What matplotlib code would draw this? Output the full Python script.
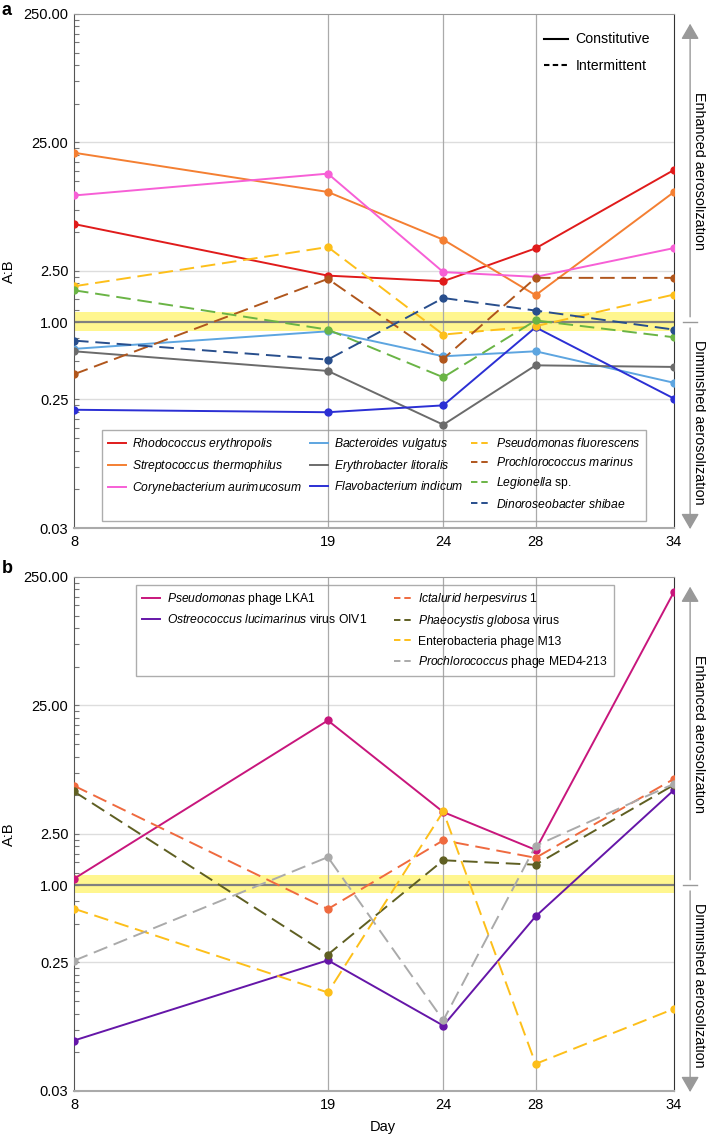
import numpy as np
import matplotlib
matplotlib.use("Agg")
import matplotlib.pyplot as plt
from matplotlib.lines import Line2D
from matplotlib.ticker import FixedLocator, FixedFormatter, NullFormatter
import matplotlib.transforms as mtransforms

plt.rcParams['font.family'] = ['Liberation Sans', 'DejaVu Sans']
plt.rcParams['mathtext.fontset'] = 'custom'
plt.rcParams['mathtext.it'] = 'Liberation Sans:italic'
plt.rcParams['mathtext.rm'] = 'Liberation Sans'

# sampling days
days = [8, 19, 24, 28, 34]

# panel a: bacteria, A:B ratios
rhodococcus = [5.80, 2.30, 2.08, 3.75, 15.3]
streptococcus = [20.8, 10.3, 4.38, 1.62, 10.3]
corynebacterium = [9.67, 14.3, 2.45, 2.25, 3.77]
bacteroides = [0.619, 0.848, 0.542, 0.593, 0.337]
erythrobacter = [0.593, 0.417, 0.159, 0.461, 0.448]
flavobacterium = [0.208, 0.199, 0.225, 0.911, 0.254]
ps_fluorescens = [1.90, 3.84, 0.80, 0.93, 1.64]
pro_marinus = [0.393, 2.17, 0.518, 2.21, 2.21]
legionella = [1.77, 0.874, 0.372, 1.03, 0.762]
dinoroseobacter = [0.718, 0.511, 1.54, 1.23, 0.874]

# panel b: viruses
lka1 = [1.12, 19.1, 3.70, 1.88, 192.0]
ostreococcus_v = [0.0617, 0.260, 0.0806, 0.571, 5.51]
ictalurid = [5.93, 0.651, 2.23, 1.63, 6.71]
phaeocystis_v = [5.35, 0.288, 1.56, 1.44, 6.03]
m13 = [0.655, 0.146, 3.74, 0.0406, 0.109]
pro_phage = [0.258, 1.65, 0.0886, 2.02, 6.14]

ytick_vals = [0.025, 0.25, 1.0, 2.5, 25, 250]
ytick_labels = ['0.03', '0.25', '1.00', '2.50', '25.00', '250.00']

bact_series = [
    (rhodococcus, r'$\it{Rhodococcus\ erythropolis}$', '#e01b1b', '-'),
    (streptococcus, r'$\it{Streptococcus\ thermophilus}$', '#f47f32', '-'),
    (corynebacterium, r'$\it{Corynebacterium\ aurimucosum}$', '#f75fd6', '-'),
    (bacteroides, r'$\it{Bacteroides\ vulgatus}$', '#5da5e0', '-'),
    (erythrobacter, r'$\it{Erythrobacter\ litoralis}$', '#6b6b6b', '-'),
    (flavobacterium, r'$\it{Flavobacterium\ indicum}$', '#2b2fd4', '-'),
    (ps_fluorescens, r'$\it{Pseudomonas\ fluorescens}$', '#fdbf1a', '--'),
    (pro_marinus, r'$\it{Prochlorococcus\ marinus}$', '#b0561c', '--'),
    (legionella, r'$\it{Legionella}$ sp.', '#6ab445', '--'),
    (dinoroseobacter, r'$\it{Dinoroseobacter\ shibae}$', '#284e8c', '--'),
]

virus_series = [
    (lka1, r'$\it{Pseudomonas}$ phage LKA1', '#c8167c', '-'),
    (ostreococcus_v, r'$\it{Ostreococcus\ lucimarinus}$ virus OIV1', '#6516a8', '-'),
    (ictalurid, r'$\it{Ictalurid\ herpesvirus}$ 1', '#ef6a3f', '--'),
    (phaeocystis_v, r'$\it{Phaeocystis\ globosa}$ virus', '#5f5f22', '--'),
    (m13, 'Enterobacteria phage M13', '#fdbf1a', '--'),
    (pro_phage, r'$\it{Prochlorococcus}$ phage MED4-213', '#aaaaaa', '--'),
]

fig = plt.figure(figsize=(7.06, 11.35), dpi=100)
ax_a = fig.add_axes([0.1048, 0.5348, 0.85, 0.4529])
ax_b = fig.add_axes([0.1048, 0.0388, 0.85, 0.4529])


def style_axis(ax):
    ax.set_yscale('log')
    ax.set_xlim(days[0], days[-1])
    ax.set_ylim(0.025, 250)
    ax.axhspan(0.86, 1.19, color='#fff68f', zorder=0.5, lw=0)
    ax.axhline(1.0, color='#808080', lw=1.6, zorder=1)
    for v in ytick_vals[1:-1]:
        if v != 1.0:
            ax.axhline(v, color='#dddddd', lw=1.0, zorder=0.4)
    for d in days[1:-1]:
        ax.axvline(d, color='#aaaaaa', lw=0.9, zorder=0.6)
    ax.yaxis.set_major_locator(FixedLocator(ytick_vals))
    ax.yaxis.set_major_formatter(FixedFormatter(ytick_labels))
    minors = [0.025 * 10 ** n * k for n in range(4) for k in range(2, 10)]
    ax.yaxis.set_minor_locator(FixedLocator(minors))
    ax.yaxis.set_minor_formatter(NullFormatter())
    ax.tick_params(axis='y', which='both', direction='in', length=3.5, width=0.8,
                   color='#777777', labelsize=10.5, pad=4)
    ax.set_xticks(days)
    ax.tick_params(axis='x', length=0, labelsize=10.5, pad=5)
    ax.spines['top'].set_color('#999999')
    ax.spines['right'].set_color('#333333')
    ax.spines['left'].set_color('#555555')
    ax.spines['bottom'].set_color('#aaaaaa')
    ax.spines['bottom'].set_linewidth(1.5)
    ax.set_ylabel('A:B', fontsize=10.5)
    ax.yaxis.set_label_coords(-0.097, 0.5)

    # right side arrows
    trans = mtransforms.blended_transform_factory(ax.transAxes, ax.transData)
    arrow = dict(arrowstyle='-|>,head_length=0.95,head_width=0.55', color='#999999',
                 lw=1.0, mutation_scale=10, shrinkA=0, shrinkB=0)
    ax.annotate('', xy=(1.0267, 210), xytext=(1.0267, 1.1), xycoords=trans,
                textcoords=trans, arrowprops=arrow, annotation_clip=False)
    ax.annotate('', xy=(1.0267, 0.0245), xytext=(1.0267, 0.9), xycoords=trans,
                textcoords=trans, arrowprops=arrow, annotation_clip=False)
    ax.plot([1.015, 1.038], [1.0, 1.0], color='#999999', lw=1.0, transform=trans,
            clip_on=False)
    ax.text(1.0417, 15, 'Enhanced aerosolization', rotation=270, transform=trans,
            ha='center', va='center', fontsize=10.4)
    ax.text(1.0417, 0.165, 'Diminished aerosolization', rotation=270, transform=trans,
            ha='center', va='center', fontsize=10.4)


def draw_series(ax, series):
    handles = []
    for vals, label, color, ls in series:
        if ls == '--':
            ax.plot(days, vals, color=color, lw=1.4, dashes=(7.5, 3.5), marker='o',
                    markersize=5, zorder=3)
            handles.append(Line2D([], [], color=color, lw=1.4, dashes=(3.3, 2.0),
                                  label=label))
        else:
            ax.plot(days, vals, color=color, lw=1.4, marker='o', markersize=5, zorder=3)
            handles.append(Line2D([], [], color=color, lw=1.4, label=label))
    return handles


def blank():
    return Line2D([], [], alpha=0, label=' ')


style_axis(ax_a)
style_axis(ax_b)

h_a = draw_series(ax_a, bact_series)
h_b = draw_series(ax_b, virus_series)

leg_a = ax_a.legend(h_a[:3] + [blank()] + h_a[3:6] + [blank()] + h_a[6:],
                    [h.get_label() for h in h_a[:3]] + [' '] +
                    [h.get_label() for h in h_a[3:6]] + [' '] +
                    [h.get_label() for h in h_a[6:]],
                    ncol=3, loc='lower left', bbox_to_anchor=(0.046, 0.0142),
                    fontsize=8.7, handlelength=1.5, handletextpad=0.55,
                    columnspacing=0.6, labelspacing=0.52, borderpad=0.5,
                    fancybox=False, facecolor='none', edgecolor='#999999',
                    borderaxespad=0)
leg_a.get_frame().set_linewidth(1.0)

style_h = [Line2D([], [], color='black', lw=1.5, label='Constitutive'),
           Line2D([], [], color='black', lw=1.5, dashes=(2.6, 1.6), label='Intermittent')]
leg_s = ax_a.legend(handles=style_h, loc='upper left', bbox_to_anchor=(0.773, 0.975),
                    fontsize=10.2, handlelength=1.75, handletextpad=0.5,
                    labelspacing=0.85, frameon=False, borderaxespad=0)
ax_a.add_artist(leg_a)

leg_b = ax_b.legend(h_b[:2] + [blank(), blank()] + h_b[2:],
                    [h.get_label() for h in h_b[:2]] + [' ', ' '] +
                    [h.get_label() for h in h_b[2:]],
                    ncol=2, loc='upper left', bbox_to_anchor=(0.1033, 0.9844),
                    fontsize=8.7, handlelength=1.5, handletextpad=0.55,
                    columnspacing=2.2, labelspacing=0.52, borderpad=0.5,
                    fancybox=False, facecolor='none', edgecolor='#999999',
                    borderaxespad=0)
leg_b.get_frame().set_linewidth(1.0)

ax_b.set_xlabel('Day', fontsize=10.5)
ax_b.xaxis.set_label_coords(0.515, -0.056)

fig.text(0.002, 0.998, 'a', fontsize=13, fontweight='bold', ha='left', va='top')
fig.text(0.002, 1 - 560 / 1135, 'b', fontsize=13, fontweight='bold', ha='left', va='top')

fig.savefig('out.png', dpi=100)
